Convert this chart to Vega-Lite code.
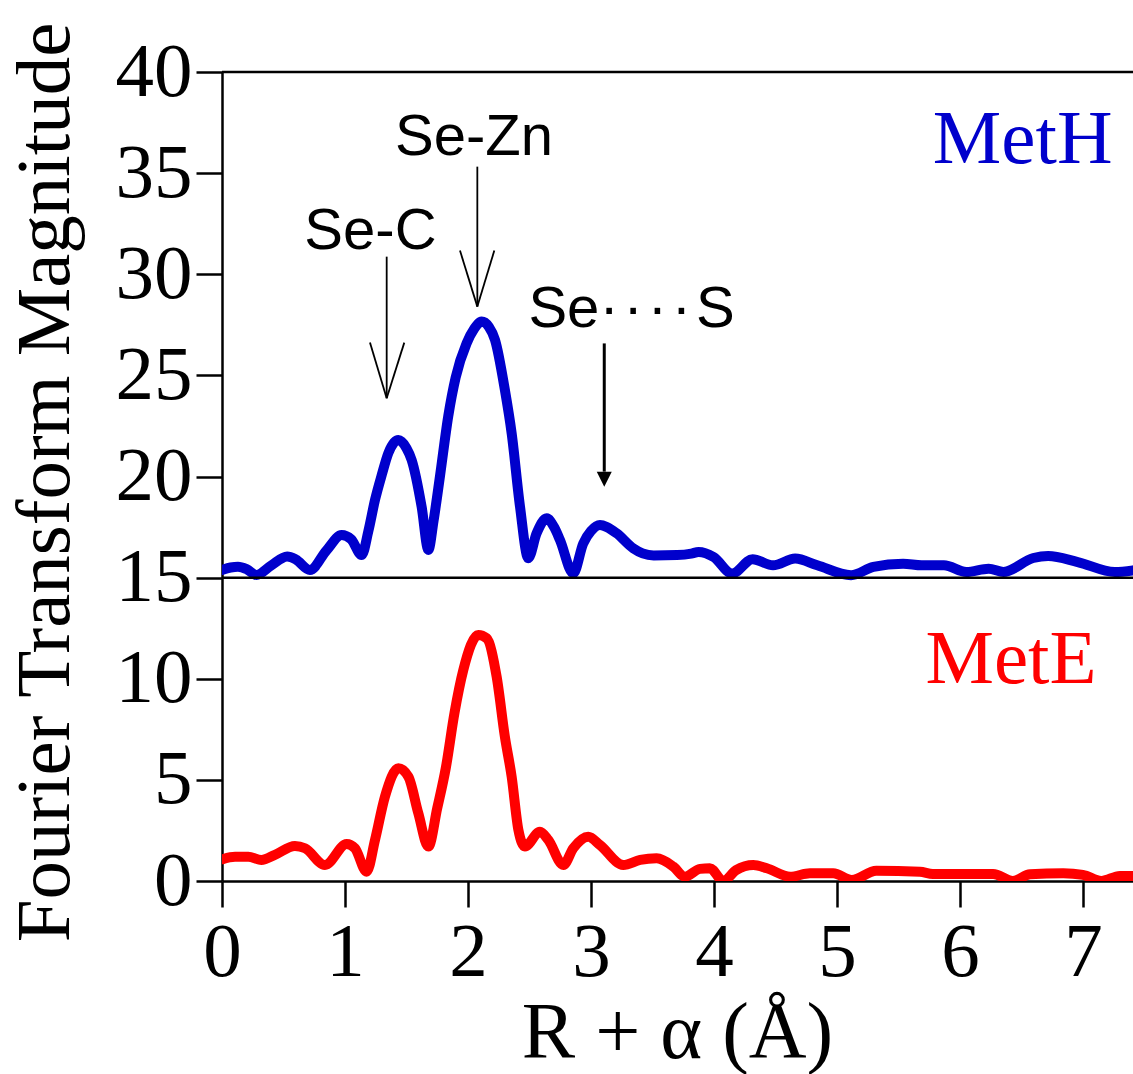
{
  "$schema": "https://vega.github.io/schema/vega-lite/v6.json",
  "width": 911,
  "height": 809,
  "autosize": {"type": "none"},
  "padding": {"left": 222, "top": 72, "right": 0, "bottom": 193},
  "background": "white",
  "config": {
    "view": {"stroke": null},
    "axis": {
      "domainColor": "black", "domainWidth": 2.5,
      "tickColor": "black", "tickWidth": 2.5, "tickSize": 26,
      "labelFont": "Liberation Serif", "labelFontSize": 77, "labelColor": "black", "labelOverlap": false, "labelFlush": false,
      "titleFont": "Liberation Serif", "titleFontSize": 77, "titleFontWeight": "normal", "titleColor": "black",
      "grid": false, "zindex": 1
    }
  },
  "datasets": {
    "curves": [
      {"series": "MetH", "r": 0, "v": 15.38}, {"series": "MetH", "r": 0.07, "v": 15.5}, {"series": "MetH", "r": 0.13, "v": 15.54},
      {"series": "MetH", "r": 0.2, "v": 15.42}, {"series": "MetH", "r": 0.28, "v": 15.13}, {"series": "MetH", "r": 0.4, "v": 15.6},
      {"series": "MetH", "r": 0.53, "v": 16.04}, {"series": "MetH", "r": 0.6, "v": 15.9}, {"series": "MetH", "r": 0.715, "v": 15.38},
      {"series": "MetH", "r": 0.85, "v": 16.35}, {"series": "MetH", "r": 0.973, "v": 17.11}, {"series": "MetH", "r": 1.05, "v": 16.9},
      {"series": "MetH", "r": 1.136, "v": 16.12}, {"series": "MetH", "r": 1.19, "v": 17.3}, {"series": "MetH", "r": 1.244, "v": 18.84},
      {"series": "MetH", "r": 1.3, "v": 20.1}, {"series": "MetH", "r": 1.352, "v": 21.15}, {"series": "MetH", "r": 1.434, "v": 21.8},
      {"series": "MetH", "r": 1.5, "v": 21.4}, {"series": "MetH", "r": 1.542, "v": 20.82}, {"series": "MetH", "r": 1.623, "v": 18.51},
      {"series": "MetH", "r": 1.678, "v": 16.37}, {"series": "MetH", "r": 1.72, "v": 17.8}, {"series": "MetH", "r": 1.772, "v": 20.0},
      {"series": "MetH", "r": 1.84, "v": 23.0}, {"series": "MetH", "r": 1.9, "v": 24.9}, {"series": "MetH", "r": 1.989, "v": 26.59},
      {"series": "MetH", "r": 2.05, "v": 27.3}, {"series": "MetH", "r": 2.111, "v": 27.66}, {"series": "MetH", "r": 2.17, "v": 27.4},
      {"series": "MetH", "r": 2.22, "v": 26.75}, {"series": "MetH", "r": 2.3, "v": 24.28}, {"series": "MetH", "r": 2.355, "v": 22.14},
      {"series": "MetH", "r": 2.423, "v": 18.51}, {"series": "MetH", "r": 2.49, "v": 15.96}, {"series": "MetH", "r": 2.558, "v": 17.19},
      {"series": "MetH", "r": 2.64, "v": 17.93}, {"series": "MetH", "r": 2.7, "v": 17.5}, {"series": "MetH", "r": 2.748, "v": 16.86},
      {"series": "MetH", "r": 2.856, "v": 15.21}, {"series": "MetH", "r": 2.937, "v": 16.69}, {"series": "MetH", "r": 3.0, "v": 17.3},
      {"series": "MetH", "r": 3.073, "v": 17.6}, {"series": "MetH", "r": 3.13, "v": 17.5}, {"series": "MetH", "r": 3.209, "v": 17.19},
      {"series": "MetH", "r": 3.344, "v": 16.45}, {"series": "MetH", "r": 3.42, "v": 16.2}, {"series": "MetH", "r": 3.51, "v": 16.1},
      {"series": "MetH", "r": 3.7, "v": 16.12}, {"series": "MetH", "r": 3.815, "v": 16.19}, {"series": "MetH", "r": 3.875, "v": 16.27},
      {"series": "MetH", "r": 3.997, "v": 16.02}, {"series": "MetH", "r": 4.148, "v": 15.2}, {"series": "MetH", "r": 4.314, "v": 15.91},
      {"series": "MetH", "r": 4.48, "v": 15.61}, {"series": "MetH", "r": 4.66, "v": 15.94}, {"series": "MetH", "r": 4.84, "v": 15.61},
      {"series": "MetH", "r": 5.115, "v": 15.12}, {"series": "MetH", "r": 5.296, "v": 15.53}, {"series": "MetH", "r": 5.538, "v": 15.69},
      {"series": "MetH", "r": 5.689, "v": 15.61}, {"series": "MetH", "r": 5.87, "v": 15.61}, {"series": "MetH", "r": 6.052, "v": 15.28},
      {"series": "MetH", "r": 6.233, "v": 15.44}, {"series": "MetH", "r": 6.354, "v": 15.28}, {"series": "MetH", "r": 6.596, "v": 15.97},
      {"series": "MetH", "r": 6.717, "v": 16.07}, {"series": "MetH", "r": 6.958, "v": 15.77}, {"series": "MetH", "r": 7.26, "v": 15.28},
      {"series": "MetH", "r": 7.407, "v": 15.36},
      {"series": "MetE", "r": 0, "v": 1.07}, {"series": "MetE", "r": 0.106, "v": 1.2}, {"series": "MetE", "r": 0.214, "v": 1.2},
      {"series": "MetE", "r": 0.32, "v": 1.04}, {"series": "MetE", "r": 0.43, "v": 1.29}, {"series": "MetE", "r": 0.593, "v": 1.73},
      {"series": "MetE", "r": 0.675, "v": 1.62}, {"series": "MetE", "r": 0.837, "v": 0.79}, {"series": "MetE", "r": 1.014, "v": 1.83},
      {"series": "MetE", "r": 1.081, "v": 1.62}, {"series": "MetE", "r": 1.176, "v": 0.46}, {"series": "MetE", "r": 1.244, "v": 2.03},
      {"series": "MetE", "r": 1.325, "v": 4.17}, {"series": "MetE", "r": 1.434, "v": 5.57}, {"series": "MetE", "r": 1.515, "v": 5.16},
      {"series": "MetE", "r": 1.596, "v": 3.35}, {"series": "MetE", "r": 1.678, "v": 1.7}, {"series": "MetE", "r": 1.75, "v": 3.6},
      {"series": "MetE", "r": 1.82, "v": 5.6}, {"series": "MetE", "r": 1.89, "v": 8.3}, {"series": "MetE", "r": 1.962, "v": 10.43},
      {"series": "MetE", "r": 2.084, "v": 12.16}, {"series": "MetE", "r": 2.152, "v": 12.0}, {"series": "MetE", "r": 2.233, "v": 10.1},
      {"series": "MetE", "r": 2.3, "v": 7.13}, {"series": "MetE", "r": 2.355, "v": 5.16}, {"series": "MetE", "r": 2.41, "v": 2.52},
      {"series": "MetE", "r": 2.463, "v": 1.7}, {"series": "MetE", "r": 2.585, "v": 2.44}, {"series": "MetE", "r": 2.653, "v": 2.03},
      {"series": "MetE", "r": 2.775, "v": 0.79}, {"series": "MetE", "r": 2.856, "v": 1.62}, {"series": "MetE", "r": 2.978, "v": 2.19},
      {"series": "MetE", "r": 3.073, "v": 1.78}, {"series": "MetE", "r": 3.263, "v": 0.79}, {"series": "MetE", "r": 3.4, "v": 1.04},
      {"series": "MetE", "r": 3.534, "v": 1.12}, {"series": "MetE", "r": 3.67, "v": 0.71}, {"series": "MetE", "r": 3.764, "v": 0.21},
      {"series": "MetE", "r": 3.886, "v": 0.6}, {"series": "MetE", "r": 3.967, "v": 0.63}, {"series": "MetE", "r": 4.076, "v": 0.0},
      {"series": "MetE", "r": 4.18, "v": 0.54}, {"series": "MetE", "r": 4.32, "v": 0.79}, {"series": "MetE", "r": 4.43, "v": 0.63},
      {"series": "MetE", "r": 4.62, "v": 0.21}, {"series": "MetE", "r": 4.78, "v": 0.38}, {"series": "MetE", "r": 4.97, "v": 0.38},
      {"series": "MetE", "r": 5.12, "v": 0.05}, {"series": "MetE", "r": 5.32, "v": 0.51}, {"series": "MetE", "r": 5.675, "v": 0.46},
      {"series": "MetE", "r": 5.78, "v": 0.35}, {"series": "MetE", "r": 6.27, "v": 0.35}, {"series": "MetE", "r": 6.43, "v": 0.0},
      {"series": "MetE", "r": 6.57, "v": 0.33}, {"series": "MetE", "r": 6.84, "v": 0.38}, {"series": "MetE", "r": 7.0, "v": 0.3},
      {"series": "MetE", "r": 7.15, "v": 0.0}, {"series": "MetE", "r": 7.3, "v": 0.25}, {"series": "MetE", "r": 7.407, "v": 0.25}
    ],
    "arrows": [
      {"arrow": "Se-C", "x": 1.339, "y": 30.87, "x2": 1.339, "y2": 23.87},
      {"arrow": "Se-C", "x": 1.203, "y": 26.62, "x2": 1.339, "y2": 23.87},
      {"arrow": "Se-C", "x": 1.482, "y": 26.62, "x2": 1.339, "y2": 23.87},
      {"arrow": "Se-Zn", "x": 2.076, "y": 35.32, "x2": 2.076, "y2": 28.4},
      {"arrow": "Se-Zn", "x": 1.935, "y": 31.17, "x2": 2.076, "y2": 28.4},
      {"arrow": "Se-Zn", "x": 2.214, "y": 31.17, "x2": 2.076, "y2": 28.4},
      {"arrow": "Se-S", "x": 3.108, "y": 26.58, "x2": 3.108, "y2": 20.24}
    ],
    "heads": [{"arrow": "Se-S", "x": 3.108, "y": 19.87}],
    "notes": [
      {"text": "Se-Zn", "x": 2.049, "y": 35.9},
      {"text": "Se-C", "x": 1.207, "y": 31.25},
      {"text": "Se·\u200a·\u200a·\u200a·\u200aS", "x": 3.33, "y": 27.4}
    ],
    "names": [
      {"series": "MetH", "x": 6.51, "y": 35.5},
      {"series": "MetE", "x": 6.415, "y": 9.79}
    ],
    "borders": [{"y": 40}, {"y": 15}]
  },
  "layer": [
    {
      "data": {"name": "curves"},
      "mark": {"type": "line", "strokeWidth": 10, "interpolate": "monotone", "strokeCap": "round", "strokeJoin": "round", "clip": true},
      "encoding": {
        "x": {"field": "r", "type": "quantitative",
              "scale": {"domain": [0, 7.407], "nice": false, "zero": false},
              "axis": {"values": [0, 1, 2, 3, 4, 5, 6, 7], "format": "d", "labelPadding": 7, "title": "R + α (Å)",
                       "titleX": 455, "titleY": 176, "titleBaseline": "alphabetic", "titleAlign": "center", "titleFontSize": 80}},
        "y": {"field": "v", "type": "quantitative",
              "scale": {"domain": [0, 40], "nice": false},
              "axis": {"values": [0, 5, 10, 15, 20, 25, 30, 35, 40], "format": "d", "labelPadding": 4, "title": "Fourier Transform Magnitude",
                       "titleX": -154, "titleY": 410, "titleAngle": -90, "titleBaseline": "alphabetic", "titleAlign": "center"}},
        "color": {"field": "series", "type": "nominal",
                  "scale": {"domain": ["MetH", "MetE"], "range": ["#0000CC", "#FF0000"]}, "legend": null},
        "detail": {"field": "series"}
      }
    },
    {
      "data": {"name": "borders"},
      "mark": {"type": "rule", "color": "black", "strokeWidth": 2.5},
      "encoding": {"y": {"field": "y", "type": "quantitative"}}
    },
    {
      "data": {"name": "arrows"},
      "transform": [{"filter": "datum.arrow !== 'Se-S'"}],
      "mark": {"type": "rule", "color": "black", "strokeWidth": 1.8},
      "encoding": {
        "x": {"field": "x", "type": "quantitative"}, "y": {"field": "y", "type": "quantitative"},
        "x2": {"field": "x2"}, "y2": {"field": "y2"}
      }
    },
    {
      "data": {"name": "arrows"},
      "transform": [{"filter": "datum.arrow === 'Se-S'"}],
      "mark": {"type": "rule", "color": "black", "strokeWidth": 3},
      "encoding": {
        "x": {"field": "x", "type": "quantitative"}, "y": {"field": "y", "type": "quantitative"},
        "x2": {"field": "x2"}, "y2": {"field": "y2"}
      }
    },
    {
      "data": {"name": "heads"},
      "mark": {"type": "point", "shape": "M-1,-1L1,-1L0,1Z", "filled": true, "color": "black", "opacity": 1, "size": 225},
      "encoding": {"x": {"field": "x", "type": "quantitative"}, "y": {"field": "y", "type": "quantitative"}}
    },
    {
      "data": {"name": "notes"},
      "mark": {"type": "text", "font": "Liberation Sans", "fontSize": 58, "color": "black", "align": "center", "baseline": "alphabetic"},
      "encoding": {
        "x": {"field": "x", "type": "quantitative"}, "y": {"field": "y", "type": "quantitative"},
        "text": {"field": "text"}
      }
    },
    {
      "data": {"name": "names"},
      "mark": {"type": "text", "font": "Liberation Serif", "fontSize": 77, "align": "center", "baseline": "alphabetic"},
      "encoding": {
        "x": {"field": "x", "type": "quantitative"}, "y": {"field": "y", "type": "quantitative"},
        "text": {"field": "series"},
        "color": {"field": "series", "type": "nominal",
                  "scale": {"domain": ["MetH", "MetE"], "range": ["#0000CC", "#FF0000"]}, "legend": null}
      }
    }
  ]
}
